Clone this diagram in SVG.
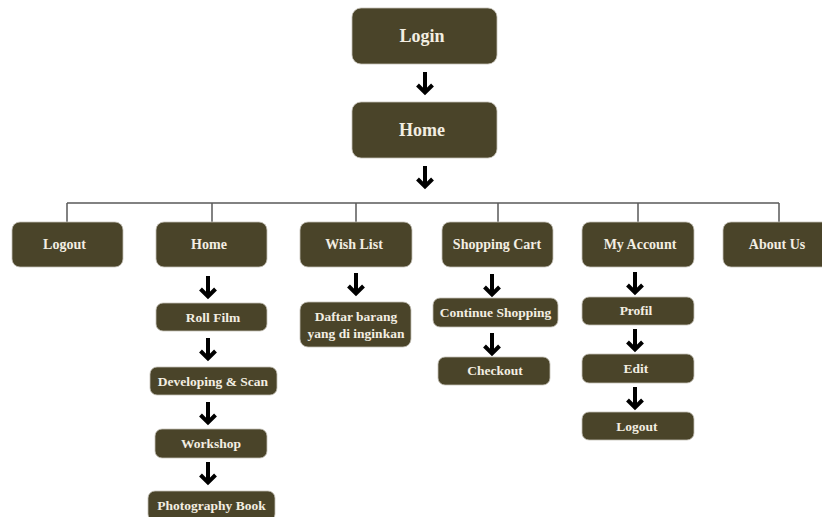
<svg xmlns="http://www.w3.org/2000/svg" xmlns:xlink="http://www.w3.org/1999/xlink" width="822" height="517" viewBox="0 0 822 517">
<style>
.box{fill:#4a4429;stroke:#c4c0b6;stroke-width:0.8}
.t{font-family:"Liberation Serif","DejaVu Serif",serif;font-weight:bold;fill:#f3eee2;text-anchor:middle;dominant-baseline:central}
.big{font-size:18px}
.mid{font-size:14px}
.sm{font-size:13.5px}
.tree{fill:none;stroke:#5a5a5a;stroke-width:1.5}
.arr{fill:none;stroke:#000;stroke-width:4;stroke-linejoin:miter}
</style>
<defs>
<path id="arrow" class="arr" d="M0,-11 L0,9 M-7.5,2 L0,9.5 L7.5,2"/>
</defs>
<rect width="822" height="517" fill="#ffffff"/>
<g id="connectors">
<path class="tree" d="M67,203 H779 M67,203 V222 M212,203 V222 M356,203 V222 M498,203 V222 M638,203 V222 M779,203 V222"/>
<use xlink:href="#arrow" x="425" y="83"/>
<use xlink:href="#arrow" x="425" y="177"/>
<use xlink:href="#arrow" x="208" y="287"/>
<use xlink:href="#arrow" x="208" y="349"/>
<use xlink:href="#arrow" x="208" y="413"/>
<use xlink:href="#arrow" x="208" y="473"/>
<use xlink:href="#arrow" x="356" y="284"/>
<use xlink:href="#arrow" x="492" y="285"/>
<use xlink:href="#arrow" x="492" y="344"/>
<use xlink:href="#arrow" x="635" y="283"/>
<use xlink:href="#arrow" x="635" y="340"/>
<use xlink:href="#arrow" x="635" y="398"/>
</g>
<g id="login"><rect class="box" x="352" y="8" width="145" height="56" rx="9"/><text class="t big" x="422" y="36">Login</text></g>
<g id="home-top"><rect class="box" x="352" y="102" width="145" height="56" rx="9"/><text class="t big" x="422" y="130">Home</text></g>
<g id="logout-main"><rect class="box" x="12" y="222" width="111" height="45" rx="8"/><text class="t mid" x="64.5" y="244">Logout</text></g>
<g id="home"><rect class="box" x="156" y="222" width="111" height="45" rx="8"/><text class="t mid" x="209" y="244">Home</text></g>
<g id="wishlist"><rect class="box" x="300" y="222" width="112" height="45" rx="8"/><text class="t mid" x="354" y="244">Wish List</text></g>
<g id="cart"><rect class="box" x="442" y="222" width="111" height="45" rx="8"/><text class="t mid" x="497" y="244">Shopping Cart</text></g>
<g id="account"><rect class="box" x="582" y="222" width="112" height="45" rx="8"/><text class="t mid" x="640" y="244">My Account</text></g>
<g id="about"><rect class="box" x="723" y="222" width="112" height="45" rx="8"/><text class="t mid" x="777" y="244">About Us</text></g>
<g id="rollfilm"><rect class="box" x="156" y="303" width="111" height="28" rx="7"/><text class="t sm" x="213" y="317">Roll Film</text></g>
<g id="developing"><rect class="box" x="150" y="367" width="127" height="28" rx="7"/><text class="t sm" x="213" y="381">Developing &amp; Scan</text></g>
<g id="workshop"><rect class="box" x="155" y="429" width="112" height="29" rx="7"/><text class="t sm" x="211" y="443">Workshop</text></g>
<g id="photobook"><rect class="box" x="148" y="491" width="127" height="30" rx="7"/><text class="t sm" x="211.5" y="505">Photography Book</text></g>
<g id="daftar"><rect class="box" x="300" y="302" width="111" height="45" rx="8"/><text class="t sm" x="356" y="316">Daftar barang</text><text class="t sm" x="356" y="333">yang di inginkan</text></g>
<g id="continue"><rect class="box" x="433" y="298" width="125" height="29" rx="7"/><text class="t sm" x="495.5" y="312">Continue Shopping</text></g>
<g id="checkout"><rect class="box" x="438" y="357" width="112" height="28" rx="7"/><text class="t sm" x="495" y="370">Checkout</text></g>
<g id="profil"><rect class="box" x="582" y="297" width="112" height="28" rx="7"/><text class="t sm" x="636" y="310">Profil</text></g>
<g id="edit"><rect class="box" x="582" y="354" width="112" height="29" rx="7"/><text class="t sm" x="636" y="368">Edit</text></g>
<g id="logout-sub"><rect class="box" x="582" y="412" width="112" height="28" rx="7"/><text class="t sm" x="637" y="426">Logout</text></g>
</svg>
